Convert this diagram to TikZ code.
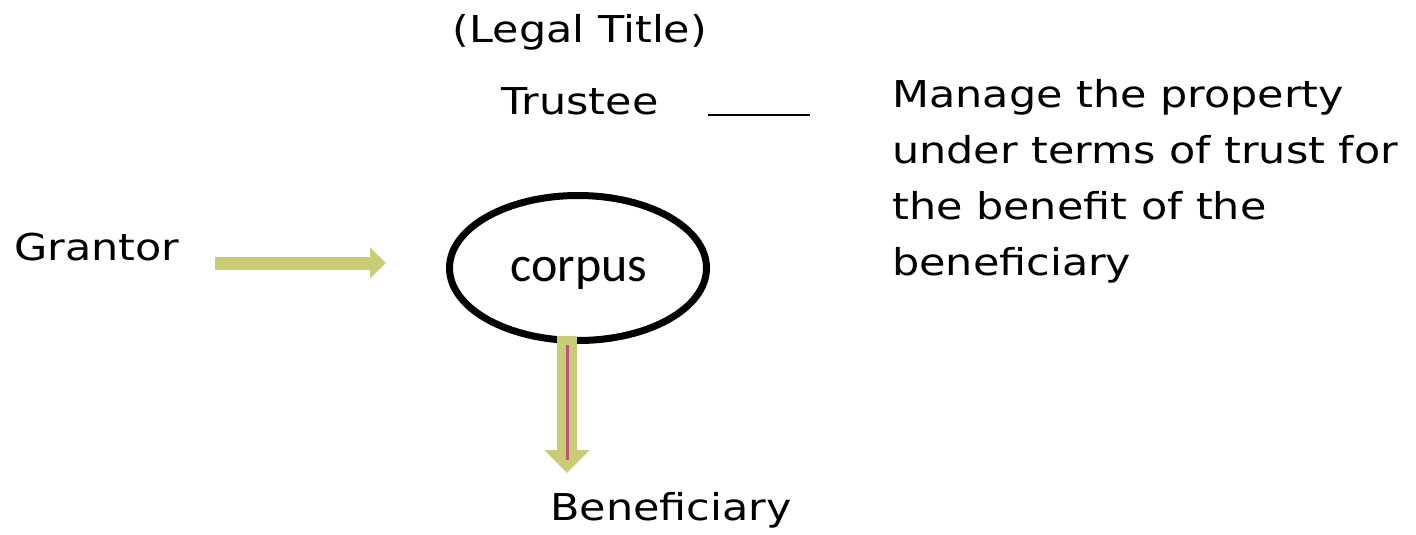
\documentclass[tikz,border=0pt]{standalone}
\usepackage{fontspec}
\setmainfont{DejaVu Sans}[FakeStretch=1.16]
\newfontfamily\corpusfont{Carlito}
\usetikzlibrary{arrows.meta,shapes.geometric}
\definecolor{olive}{HTML}{C9CC75}
\definecolor{rosy}{HTML}{C0507C}
\tikzset{
  lbl/.style={inner sep=0pt, font=\fontsize{37}{56}\selectfont},
  fatarrow/.style={draw=olive, line width=13pt, -{Triangle[length=16pt,width=30pt]}},
}
\begin{document}
\begin{tikzpicture}[x=1pt,y=-1pt]
\useasboundingbox (0,0) rectangle (1416,535);
\node[lbl] (legal) at (580,32) {(Legal Title)};
\node[lbl] (trustee) at (580,101) {Trustee};
\coordinate (l1) at (708,115);
\coordinate (l2) at (810,115);
\draw[line width=2.5pt] (l1) -- (l2);
\node[lbl, anchor=north west, align=left] (manage) at (892,79) {Manage the property\\under terms of trust for\\the benefit of the\\beneficiary};
\node[lbl] (grantor) at (97,247) {Grantor};
\node[draw, line width=7pt, ellipse, minimum width=257pt, minimum height=145pt, inner sep=0pt] (corpus) at (578,268) {};
\node[inner sep=0pt, font=\corpusfont\fontsize{50}{56}\selectfont] (corpustext) at (579,273) {corpus};
\coordinate (ga) at (215,263);
\coordinate (gb) at (386,263);
\draw[fatarrow] (ga) -- (gb);
\coordinate (da) at (567,336);
\coordinate (db) at (567,473);
\draw[draw=olive, line width=20pt, -{Triangle[length=23pt,width=44pt]}] (da) -- (db);
\coordinate (pa) at (567,345);
\coordinate (pb) at (567,460);
\draw[rosy, line width=3pt] (pa) -- (pb);
\node[lbl] (benef) at (671,510) {Beneficiary};
\end{tikzpicture}
\end{document}
